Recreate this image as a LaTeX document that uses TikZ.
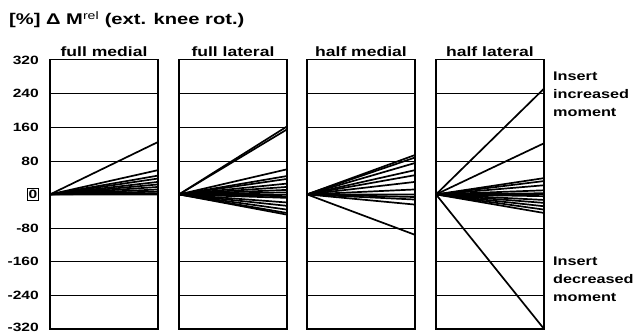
\documentclass[tikz,border=0pt]{standalone}
\usepackage{fontspec}
\setmainfont{Liberation Sans}[FakeStretch=1.3]
\usetikzlibrary{positioning}

\tikzset{
  frame/.style={draw, line width=1.2pt, inner sep=0pt, outer sep=0pt,
    minimum width=108pt, minimum height=269pt},
  gridline/.style={line width=0.8pt},
  fanline/.style={line width=1.7pt},
  lbl/.style={font=\bfseries\fontsize{12}{14}\selectfont, inner sep=1pt}
}

% one panel: name, left x, title, end values of the lines
\newcommand{\kneepanel}[4]{%
  \begin{scope}[shift={(#2,138.5)}, y=0.42pt]
    \foreach \g in {-240,-160,...,240}
      \draw[gridline] (0,\g) -- (108,\g);
    \node[frame, anchor=south west] (#1) at (0,-320) {};
    \foreach \v in {#4}
      \draw[fanline] (#1.west) -- (108,\v);
  \end{scope}
  \node[lbl, font=\bfseries\fontsize{13.5}{15}\selectfont, above=2pt of #1.north] (#1-title) {#3};
}

\begin{document}
\begin{tikzpicture}[x=1pt, y=1pt]
  \useasboundingbox (0,0) rectangle (633,333);

  \node[anchor=west, inner sep=0pt, font=\bfseries\fontsize{15.5}{17}\selectfont]
    (heading) at (9,313) {[\%] Δ M\textsuperscript{\mdseries rel} (ext. knee rot.)};

  \kneepanel{fullmed}{50}{full medial}{125,58,45,38,30,24,18,12,7,3,0}
  \kneepanel{fulllat}{179}{full lateral}{162,155,60,44,37,26,18,11,5,-4,-8,-19,-27,-36,-44,-48}
  \kneepanel{halfmed}{307}{half medial}{94,88,75,58,46,30,12,0,-6,-12,-24,-96}
  \kneepanel{halflat}{436}{half lateral}{252,122,39,32,22,10,3,-4,-13,-20,-28,-36,-44,-320}

  % y axis
  \foreach \g in {320,240,160,80,-80,-160,-240}
    \node[lbl, anchor=east] (tick\g) at (40,138.5+0.42*\g) {\g};
  \node[lbl, anchor=east] (tick-320) at (40,6) {-320};
  \node[lbl, draw, line width=0.6pt, inner sep=1.5pt, anchor=east] (tick0) at (39,138.5) {0};

  % right hand notes
  \node[lbl, anchor=north west, align=left, font=\bfseries\fontsize{12.5}{18}\selectfont]
    (incr) at (552,262) {Insert\\increased\\moment};
  \node[lbl, anchor=north west, align=left, font=\bfseries\fontsize{12.5}{18}\selectfont]
    (decr) at (552,77) {Insert\\decreased\\moment};
\end{tikzpicture}
\end{document}
